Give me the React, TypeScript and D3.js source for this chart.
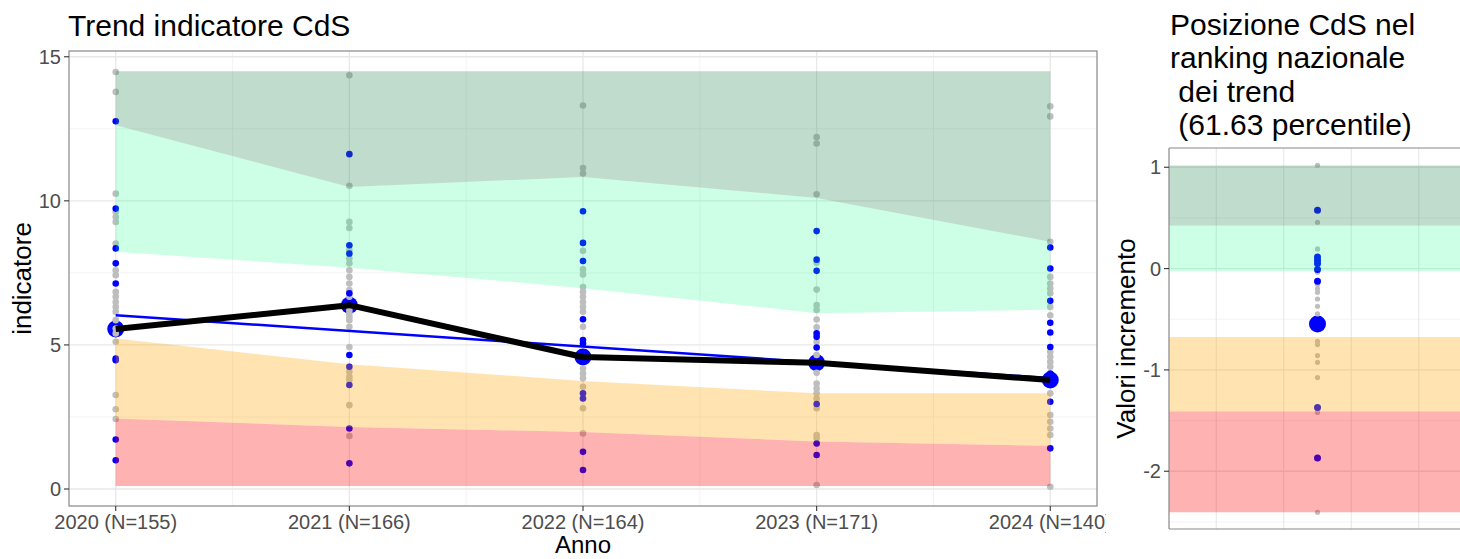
import { useEffect, useRef } from 'react'
import * as d3 from 'd3'

// Left panel data
const years = ['2020 (N=155)', '2021 (N=166)', '2022 (N=164)', '2023 (N=171)', '2024 (N=140)']
const cdsValues = [5.55, 6.38, 4.58, 4.38, 3.78]
const trendStart = 6.03
const trendEnd = 3.85

// band limits per year
const bandFloor = [0.1, 0.1, 0.1, 0.1, 0.1]
const redTop = [2.45, 2.15, 1.98, 1.65, 1.5]
const orangeTop = [5.22, 4.33, 3.75, 3.32, 3.32]
const mintBottom = [8.23, 7.68, 6.97, 6.1, 6.22]
const sageBottom = [12.62, 10.48, 10.83, 10.1, 8.58]
const bandCeil = [14.5, 14.5, 14.5, 14.5, 14.5]

// other CdS values per year
const grayPts = [
  [14.47, 13.78, 10.25, 9.62, 9.44, 9.27, 8.52, 7.59, 7.42, 6.84, 6.67, 6.49, 6.32, 6.15, 5.86, 5.57, 5.4, 5.11, 3.26, 2.77, 2.43],
  [14.36, 10.52, 9.27, 9.06, 8.29, 8.0, 7.83, 7.59, 7.36, 7.13, 6.9, 6.67, 6.2, 6.09, 5.97, 5.86, 5.63, 4.93, 4.07, 3.89, 3.78, 2.91, 1.84],
  [13.31, 11.14, 10.95, 8.27, 7.62, 7.44, 7.01, 6.84, 6.67, 6.49, 6.32, 6.15, 5.63, 4.18, 4.01, 3.84, 3.55, 2.8, 1.93],
  [12.21, 11.99, 10.23, 7.85, 6.92, 6.38, 6.21, 5.88, 5.61, 5.11, 4.65, 4.03, 3.66, 3.49, 3.32, 3.14, 2.8, 1.87, 1.76, 0.14],
  [13.28, 12.93, 8.58, 7.36, 7.13, 6.96, 6.79, 6.32, 6.03, 4.76, 4.59, 4.41, 4.24, 3.32, 2.57, 2.33, 2.1, 1.87, 0.08],
]
const bluePts = [
  [12.76, 9.73, 8.35, 7.83, 7.13, 4.53, 4.47, 1.72, 1.0],
  [11.62, 8.46, 8.17, 6.79, 4.65, 4.24, 3.61, 2.1, 0.89],
  [9.64, 8.54, 7.91, 5.89, 5.17, 5.05, 4.65, 3.32, 3.14, 1.29, 0.66],
  [8.95, 7.96, 7.57, 5.4, 5.28, 4.91, 2.95, 1.58, 1.18],
  [8.38, 7.65, 6.53, 5.77, 5.43, 4.93, 4.01, 3.03, 1.41],
]

// Right panel data
const rankPercentile = '61.63'
const cdsIncrement = -0.546
const incGray = [1.02, 0.457, 0.194, 0.09, -0.036, -0.158, -0.2, -0.234, -0.3, -0.372, -0.447, -0.717, -0.75, -0.859, -0.925, -1.076, -1.42, -2.405]
const incBlue = [0.576, 0.115, 0.082, 0.05, -0.01, -0.125, -1.37, -1.87]
const incBands = [
  { lo: 0.424, hi: 1.017, color: 'seagreen', op: 0.3 },
  { lo: -0.026, hi: 0.424, color: 'springgreen', op: 0.2 },
  { lo: -1.41, hi: -0.675, color: 'orange', op: 0.3 },
  { lo: -2.405, hi: -1.41, color: 'red', op: 0.3 },
]

const W = 1460
const H = 559
const FONT = '"Liberation Sans", Arial, sans-serif'

export default function App() {
  const svgRef = useRef<SVGSVGElement>(null)

  useEffect(() => {
    if (!svgRef.current) return
    const svg = d3.select(svgRef.current)
    svg.selectAll('*').remove()

    // ---------- left panel ----------
    const L = { x0: 69, x1: 1097, y0: 51, y1: 506 }
    const x = d3.scalePoint<string>().domain(years).range([L.x0, L.x1]).padding(0.2)
    const y = d3.scaleLinear().domain([-0.59, 15.2]).range([L.y1, L.y0])
    const g = svg.append('g')

    g.append('rect').attr('x', L.x0).attr('y', L.y0).attr('width', L.x1 - L.x0).attr('height', L.y1 - L.y0).attr('fill', '#fff')

    // grid
    const xs = years.map(d => x(d)!)
    const minorX = d3.range(xs.length - 1).map(i => (xs[i] + xs[i + 1]) / 2)
    for (const v of [2.5, 7.5, 12.5]) {
      g.append('line').attr('x1', L.x0).attr('x2', L.x1).attr('y1', y(v)).attr('y2', y(v)).attr('stroke', '#f0f0f0').attr('stroke-width', 0.8)
    }
    for (const mx of minorX) {
      g.append('line').attr('x1', mx).attr('x2', mx).attr('y1', L.y0).attr('y2', L.y1).attr('stroke', '#f0f0f0').attr('stroke-width', 0.8)
    }
    for (const v of [0, 5, 10, 15]) {
      g.append('line').attr('x1', L.x0).attr('x2', L.x1).attr('y1', y(v)).attr('y2', y(v)).attr('stroke', '#e8e8e8').attr('stroke-width', 1.3)
    }
    for (const px of xs) {
      g.append('line').attr('x1', px).attr('x2', px).attr('y1', L.y0).attr('y2', L.y1).attr('stroke', '#e8e8e8').attr('stroke-width', 1.3)
    }

    // big CdS markers
    cdsValues.forEach((v, i) => {
      g.append('circle').attr('cx', xs[i]).attr('cy', y(v)).attr('r', 8.5).attr('fill', 'blue')
    })

    // points of other CdS
    grayPts.forEach((arr, i) => {
      for (const v of arr) g.append('circle').attr('cx', xs[i]).attr('cy', y(v)).attr('r', 3.3).attr('fill', '#bebebe')
    })
    bluePts.forEach((arr, i) => {
      for (const v of arr) g.append('circle').attr('cx', xs[i]).attr('cy', y(v)).attr('r', 3.3).attr('fill', 'blue')
    })

    // bands
    const bands = [
      { lo: bandFloor, hi: redTop, color: 'red', op: 0.3 },
      { lo: redTop, hi: orangeTop, color: 'orange', op: 0.3 },
      { lo: mintBottom, hi: sageBottom, color: 'springgreen', op: 0.2 },
      { lo: sageBottom, hi: bandCeil, color: 'seagreen', op: 0.3 },
    ]
    for (const b of bands) {
      const area = d3.area<number>()
        .x((_, i) => xs[i])
        .y0((_, i) => y(b.lo[i]))
        .y1((_, i) => y(b.hi[i]))
      g.append('path').datum(d3.range(years.length)).attr('d', area).attr('fill', b.color).attr('fill-opacity', b.op)
    }

    // trend line
    g.append('line')
      .attr('x1', xs[0]).attr('y1', y(trendStart))
      .attr('x2', xs[xs.length - 1]).attr('y2', y(trendEnd))
      .attr('stroke', 'blue').attr('stroke-width', 2.5)

    // CdS line
    const line = d3.line<number>().x((_, i) => xs[i]).y(d => y(d))
    g.append('path').datum(cdsValues).attr('d', line).attr('fill', 'none').attr('stroke', '#000').attr('stroke-width', 6).attr('stroke-linejoin', 'round')

    // border
    g.append('rect').attr('x', L.x0).attr('y', L.y0).attr('width', L.x1 - L.x0).attr('height', L.y1 - L.y0)
      .attr('fill', 'none').attr('stroke', '#888').attr('stroke-width', 1.2)

    // axes ticks + labels
    for (const v of [0, 5, 10, 15]) {
      g.append('line').attr('x1', L.x0 - 5).attr('x2', L.x0).attr('y1', y(v)).attr('y2', y(v)).attr('stroke', '#333').attr('stroke-width', 1.1)
      g.append('text').attr('x', L.x0 - 8).attr('y', y(v)).attr('dy', '0.36em').attr('text-anchor', 'end')
        .attr('fill', '#4d4d4d').attr('font-size', '20px').attr('font-family', FONT).text(v)
    }
    years.forEach((d, i) => {
      g.append('line').attr('x1', xs[i]).attr('x2', xs[i]).attr('y1', L.y1).attr('y2', L.y1 + 5).attr('stroke', '#333').attr('stroke-width', 1.1)
      g.append('text').attr('x', xs[i]).attr('y', L.y1 + 23).attr('text-anchor', 'middle')
        .attr('fill', '#4d4d4d').attr('font-size', '20px').attr('font-family', FONT).text(d)
    })
    g.append('text').attr('x', (L.x0 + L.x1) / 2).attr('y', 553).attr('text-anchor', 'middle')
      .attr('fill', '#000').attr('font-size', '24px').attr('font-family', FONT).text('Anno')
    g.append('text').attr('transform', `translate(31,${(L.y0 + L.y1) / 2}) rotate(-90)`).attr('text-anchor', 'middle')
      .attr('fill', '#000').attr('font-size', '26px').attr('font-family', FONT).text('indicatore')
    g.append('text').attr('x', 68).attr('y', 36).attr('fill', '#000').attr('font-size', '30px').attr('font-family', FONT)
      .text('Trend indicatore CdS')

    // ---------- right panel ----------
    const R = { x0: 1169, x1: 1466, y0: 148, y1: 529 }
    const r = svg.append('g')
    r.append('rect').attr('x', 1106).attr('y', 0).attr('width', W - 1106).attr('height', H).attr('fill', '#fff')
    const xr = d3.scaleLinear().domain([-2.2, 2.2]).range([R.x0, R.x1])
    const yr = d3.scaleLinear().domain([-2.57, 1.19]).range([R.y1, R.y0])

    for (const v of [0.5, -0.5, -1.5, -2.5]) {
      r.append('line').attr('x1', R.x0).attr('x2', R.x1).attr('y1', yr(v)).attr('y2', yr(v)).attr('stroke', '#f0f0f0').attr('stroke-width', 0.8)
    }
    for (const v of [1, 0, -1, -2]) {
      r.append('line').attr('x1', R.x0).attr('x2', R.x1).attr('y1', yr(v)).attr('y2', yr(v)).attr('stroke', '#e8e8e8').attr('stroke-width', 1.3)
    }
    for (const v of [-1.5, -0.5, 0.5, 1.5]) {
      r.append('line').attr('x1', xr(v)).attr('x2', xr(v)).attr('y1', R.y0).attr('y2', R.y1).attr('stroke', '#e8e8e8').attr('stroke-width', 1.1)
    }

    r.append('circle').attr('cx', xr(0)).attr('cy', yr(cdsIncrement)).attr('r', 8.5).attr('fill', 'blue')
    for (const v of incGray) r.append('circle').attr('cx', xr(0)).attr('cy', yr(v)).attr('r', 2.6).attr('fill', '#bebebe')
    for (const v of incBlue) r.append('circle').attr('cx', xr(0)).attr('cy', yr(v)).attr('r', 3.5).attr('fill', 'blue')

    for (const b of incBands) {
      r.append('rect').attr('x', R.x0).attr('width', R.x1 - R.x0).attr('y', yr(b.hi)).attr('height', yr(b.lo) - yr(b.hi))
        .attr('fill', b.color).attr('fill-opacity', b.op)
    }

    r.append('line').attr('x1', R.x0).attr('x2', R.x1).attr('y1', R.y0).attr('y2', R.y0).attr('stroke', '#888').attr('stroke-width', 1.2)
    r.append('line').attr('x1', R.x0).attr('x2', R.x0).attr('y1', R.y0).attr('y2', R.y1).attr('stroke', '#888').attr('stroke-width', 1.2)
    r.append('line').attr('x1', R.x0).attr('x2', R.x1).attr('y1', R.y1).attr('y2', R.y1).attr('stroke', '#888').attr('stroke-width', 1.2)

    for (const v of [1, 0, -1, -2]) {
      r.append('line').attr('x1', R.x0 - 5).attr('x2', R.x0).attr('y1', yr(v)).attr('y2', yr(v)).attr('stroke', '#333').attr('stroke-width', 1.1)
      r.append('text').attr('x', R.x0 - 8).attr('y', yr(v)).attr('dy', '0.36em').attr('text-anchor', 'end')
        .attr('fill', '#4d4d4d').attr('font-size', '20px').attr('font-family', FONT).text(v)
    }
    r.append('text').attr('transform', `translate(1135,${(R.y0 + R.y1) / 2}) rotate(-90)`).attr('text-anchor', 'middle')
      .attr('fill', '#000').attr('font-size', '26px').attr('font-family', FONT).text('Valori incremento')

    const titleLines = ['Posizione CdS nel', 'ranking nazionale', ' dei trend', ` (${rankPercentile} percentile)`]
    titleLines.forEach((t, i) => {
      r.append('text').attr('x', 1170).attr('y', 35 + i * 33.4).attr('fill', '#000').attr('font-size', '30px')
        .attr('font-family', FONT).attr('xml:space', 'preserve').style('white-space', 'pre').text(t)
    })
  }, [])

  return (
    <svg ref={svgRef} width={W} height={H} style={{ position: 'absolute', left: 0, top: 0, background: '#fff' }} />
  )
}
